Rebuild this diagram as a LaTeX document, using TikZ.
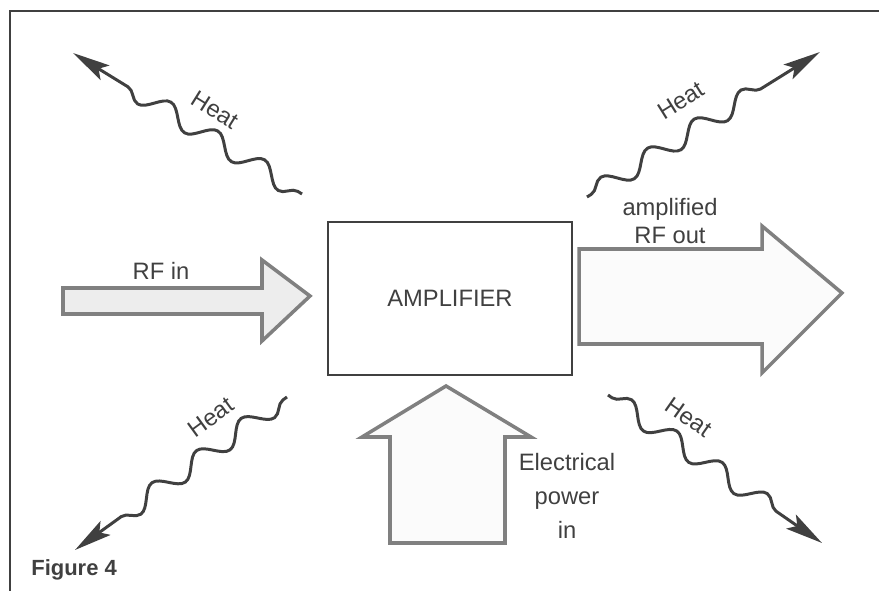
\documentclass[tikz,border=0pt]{standalone}
\usepackage{fontspec}
\setmainfont{Liberation Sans}
\usepackage{tikz}
\usetikzlibrary{arrows.meta, decorations.pathmorphing}

\definecolor{ink}{gray}{0.25}
\definecolor{smudge}{gray}{0.5}

\tikzset{
  lbl/.style={text=ink, font=\fontsize{13.5}{16}\selectfont, inner sep=0pt},
  fatarrow/.style={draw=smudge, line width=2pt, line join=miter, fill=gray!3},
  heat/.style={draw=ink, line width=1.7pt, decorate,
    decoration={snake, amplitude=1.9mm, segment length=11mm, pre length=1mm, post length=9mm},
    -{Stealth[length=7.5mm, width=3.4mm, inset=1.5mm]}},
}

\begin{document}
\begin{tikzpicture}[x=0.02cm, y=-0.02cm]
			\useasboundingbox (0,0) rectangle (879,591);
			\draw [ink, line width=1.7pt] (10,591) -- (10,11) -- (879,11);
			\node [draw=ink, line width=1.4pt, minimum width=4.88cm, minimum height=3.06cm, lbl] (amp) at (450,298.5) {AMPLIFIER};

			% block arrows
			\draw [fatarrow, fill=gray!14] (63,288) -- (262,288) -- (262,260) -- (310,296) -- (262,341) -- (262,314) -- (63,314) -- cycle;
			\draw [fatarrow] (579,249) -- (762,249) -- (762,226) -- (842,293) -- (762,373) -- (762,344) -- (579,344) -- cycle;
			\draw [fatarrow] (390,543) -- (390,437) -- (362,437) -- (446,386) -- (531,437) -- (505,437) -- (505,543) -- cycle;
			\node [lbl] (rfin) at (161,271) {RF in};
			\node [lbl, align=center] (rfout) at (670,221) {amplified\\RF out};
			\node [lbl, align=center, font=\fontsize{13.5}{19.5}\selectfont] (power) at (567,496) {Electrical\\power\\in};

			% heat
			\coordinate (tlfoot) at (302,194);
			\coordinate (tltip) at (73,53);
			\coordinate (trfoot) at (587,197);
			\coordinate (trtip) at (820,52);
			\coordinate (blfoot) at (287,397);
			\coordinate (bltip) at (75,550);
			\coordinate (brfoot) at (608,395);
			\coordinate (brtip) at (822,543);
			\draw [heat] (tlfoot) -- (tltip);
			\draw [heat] (trfoot) -- (trtip);
			\draw [heat] (blfoot) -- (bltip);
			\draw [heat] (brfoot) -- (brtip);
			\node [lbl, rotate=-32] (tlheat) at (215,110) {Heat};
			\node [lbl, rotate=32] (trheat) at (681,100) {Heat};
			\node [lbl, rotate=36] (blheat) at (211,417) {Heat};
			\node [lbl, rotate=-35] (brheat) at (689,417) {Heat};

			\node [lbl, anchor=west, font=\bfseries\fontsize{12.5}{15}\selectfont] (fig) at (31,570) {Figure 4};
		\end{tikzpicture}
\end{document}
